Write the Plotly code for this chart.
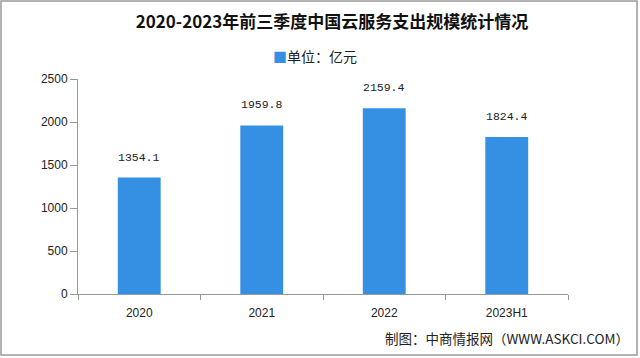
import plotly.graph_objects as go

categories = ["2020", "2021", "2022", "2023H1"]
values = [1354.1, 1959.8, 2159.4, 1824.4]
value_labels = ["1354.1", "1959.8", "2159.4", "1824.4"]
y_ticks = [0, 500, 1000, 1500, 2000, 2500]

title_text = "2020-2023年前三季度中国云服务支出规模统计情况"
series_name = "单位：亿元"
source_text = "制图：中商情报网（WWW.ASKCI.COM）"
bar_color = "#3590E4"

W, H = 640, 358
L, R, T, B = 78, 72, 79, 64
pw, ph = W - L - R, H - T - B

def px(x):
    return (x - L) / pw

def py(y):
    return (H - B - y) / ph

fig = go.Figure()
fig.add_trace(go.Bar(
    x=categories, y=values, name=series_name,
    marker=dict(color=bar_color, line=dict(width=0)),
    width=0.35,
    showlegend=False,
))

# value labels (category axis: position by category index)
for i, (v, lab) in enumerate(zip(values, value_labels)):
    fig.add_annotation(x=i, y=v, xref="x", yref="y", text=lab, showarrow=False,
                       yanchor="bottom", yshift=12,
                       font=dict(family="Liberation Mono, DejaVu Sans Mono, monospace",
                                 size=11.5, color="#222"))

fig.update_layout(
    width=W, height=H,
    margin=dict(l=L, r=R, t=T, b=B, autoexpand=False),
    paper_bgcolor="white", plot_bgcolor="white",
    font=dict(family="Liberation Sans, Arial, sans-serif", size=12, color="#222"),
    title=dict(text="<b>" + title_text + "</b>", x=332 / W, xanchor="center",
               y=1 - 22 / H, yanchor="middle",
               font=dict(family="Noto Sans CJK SC, sans-serif", size=17, color="#111")),
    xaxis=dict(type="category", categoryorder="array", categoryarray=categories,
               range=[-0.5, len(categories) - 0.5],
               showline=True, linecolor="#999", linewidth=1, ticks="outside",
               tickson="boundaries", ticklen=5, tickcolor="#999", showgrid=False,
               automargin=False, ticklabelstandoff=8, tickangle=0,
               tickfont=dict(size=12, color="#222")),
    yaxis=dict(range=[0, 2500], tickvals=y_ticks, showline=True, linecolor="#999",
               linewidth=1, ticks="outside", ticklen=7, tickcolor="#999",
               showgrid=False, zeroline=False, automargin=False,
               tickfont=dict(size=12, color="#222")),
    bargap=0.65,
)

# legend-like label
fig.add_annotation(text="<span style='color:%s'>■</span>%s" % (bar_color, series_name),
                   xref="paper", yref="paper", x=px(271), y=py(56),
                   xanchor="left", yanchor="middle", showarrow=False,
                   font=dict(family="Noto Sans CJK SC, sans-serif", size=14, color="#222"))

fig.add_annotation(text=source_text, xref="paper", yref="paper",
                   x=px(631), y=py(338), xanchor="right", yanchor="middle",
                   showarrow=False,
                   font=dict(family="Noto Sans CJK SC, sans-serif", size=13.5, color="#222"))

fig.add_shape(type="rect", xref="paper", yref="paper",
              x0=px(1), x1=px(637), y0=py(355), y1=py(1),
              line=dict(color="#9a9a9a", width=1.5), layer="below")

fig.write_html("out.html", config={"displayModeBar": False},
               post_script="document.body.style.margin='0px';")
